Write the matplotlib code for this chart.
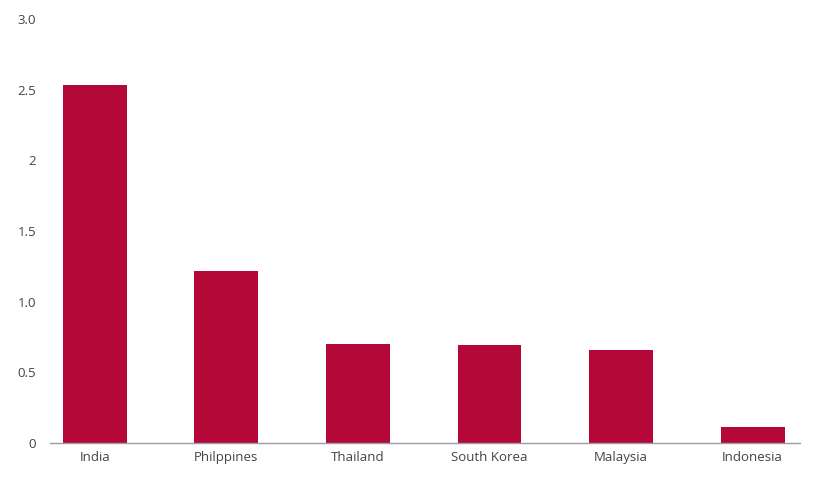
import matplotlib
matplotlib.use("Agg")
import matplotlib.pyplot as plt

# data
countries = ["India", "Philppines", "Thailand", "South Korea", "Malaysia", "Indonesia"]
values = [2.53, 1.22, 0.70, 0.69, 0.66, 0.11]
ytick_vals = [0, 0.5, 1.0, 1.5, 2.0, 2.5, 3.0]
ytick_labels = ["0", "0.5", "1.0", "1.5", "2", "2.5", "3.0"]

BAR_COLOR = "#B30838"
TEXT_COLOR = "#444444"

plt.rcParams["font.family"] = ["Open Sans", "DejaVu Sans"]

fig = plt.figure(figsize=(8.2, 4.78), dpi=100)
ax = fig.add_axes([50 / 820, 35 / 478, 750 / 820, 424 / 478])

x = range(len(countries))
ax.bar(x, values, width=0.485, color=BAR_COLOR)

ax.set_xlim(-0.34, 5.36)
ax.set_ylim(0, 3.0)
ax.set_yticks(ytick_vals)
ax.set_yticklabels(ytick_labels)
ax.set_xticks(list(x))
ax.set_xticklabels(countries)

for side in ["top", "right", "left"]:
    ax.spines[side].set_visible(False)
ax.spines["bottom"].set_color("#9a9ea6")
ax.spines["bottom"].set_linewidth(1.0)

ax.tick_params(axis="both", length=0, labelsize=9.5, colors=TEXT_COLOR)
ax.tick_params(axis="y", pad=10)
ax.tick_params(axis="x", pad=6)

fig.savefig("out.png", dpi=100)
